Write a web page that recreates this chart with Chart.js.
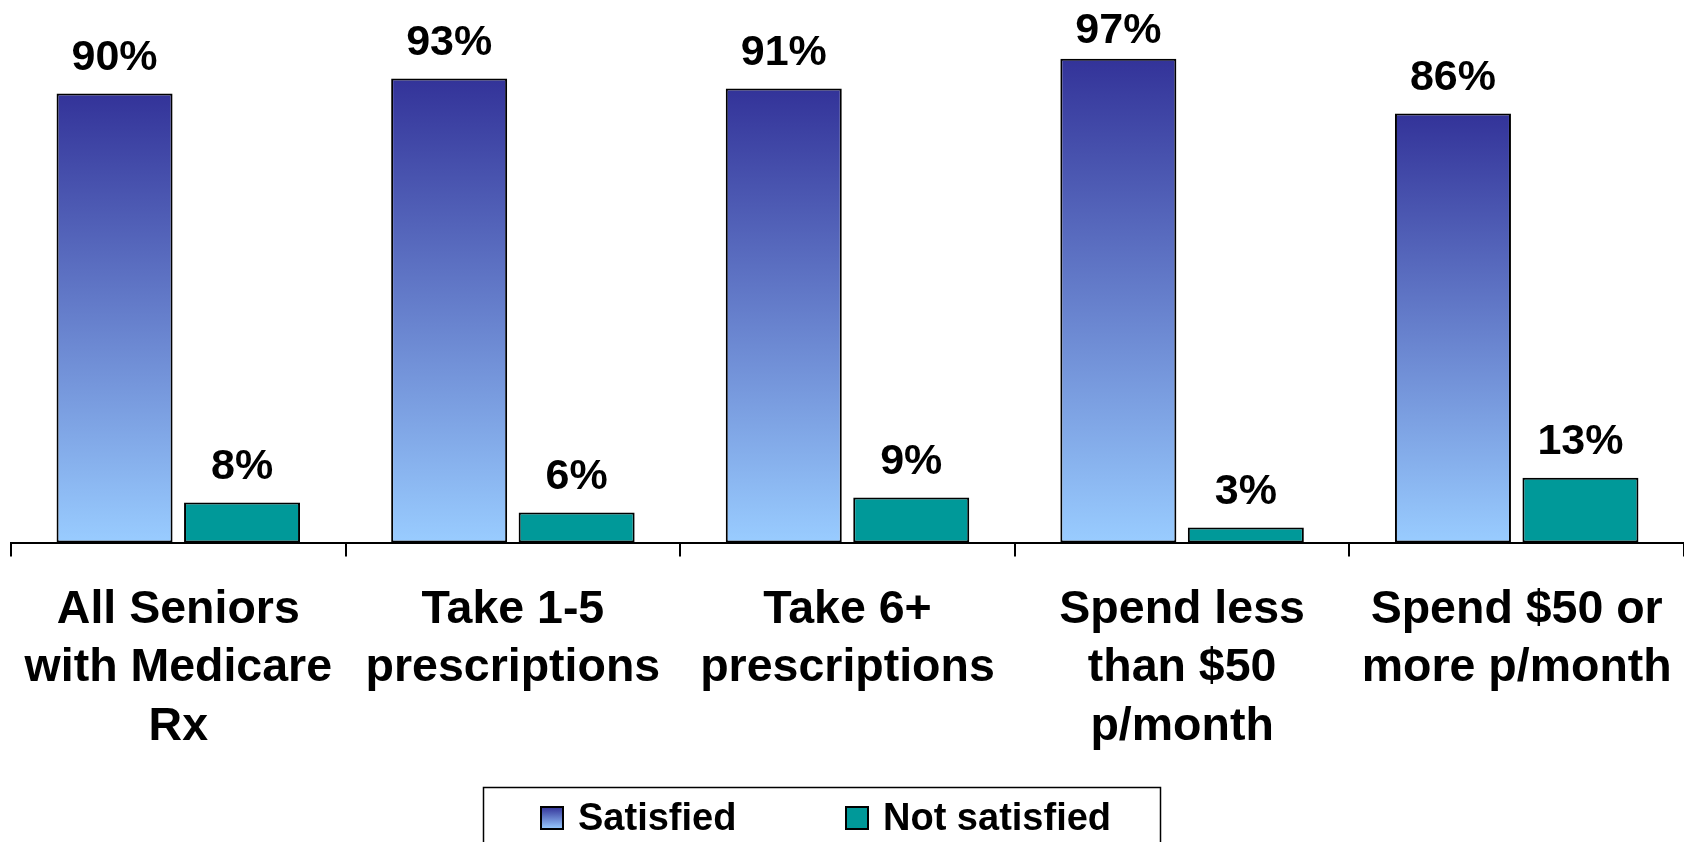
<!DOCTYPE html>
<html>
<head>
<meta charset="utf-8">
<script src="https://cdn.jsdelivr.net/npm/chart.js@4/dist/chart.umd.min.js"></script>
<style>
  html, body { margin: 0; padding: 0; background: #ffffff; }
  #wrap { width: 1684px; height: 842px; }
</style>
</head>
<body>
<div id="wrap"><canvas id="c" width="1684" height="842"></canvas></div>
<script>
const categories = [
  ["All Seniors", "with Medicare", "Rx"],
  ["Take 1-5", "prescriptions"],
  ["Take 6+", "prescriptions"],
  ["Spend less", "than $50", "p/month"],
  ["Spend $50 or", "more p/month"]
];
const seriesNames = ["Satisfied", "Not satisfied"];
const satisfied = [90, 93, 91, 97, 86];
const notSatisfied = [8, 6, 9, 3, 13];

const FONT = "'Liberation Sans', Arial, Helvetica, sans-serif";
const DARK = '#333399', LIGHT = '#99CCFF', TEAL = '#009999';

function barGradient(ctx) {
  const chart = ctx.chart;
  if (!chart.chartArea || ctx.type !== 'data' || !chart.scales.y) return DARK;
  const ys = chart.scales.y;
  const top = ys.getPixelForValue(ctx.raw);
  const bot = ys.getPixelForValue(0);
  const g = chart.ctx.createLinearGradient(0, top, 0, bot);
  g.addColorStop(0, DARK);
  g.addColorStop(1, LIGHT);
  return g;
}

const valueLabels = {
  id: 'valueLabels',
  afterDatasetsDraw(chart) {
    const c = chart.ctx;
    c.save();
    c.fillStyle = '#000';
    c.font = 'bold 43px ' + FONT;
    c.textAlign = 'center';
    c.textBaseline = 'alphabetic';
    chart.data.datasets.forEach((ds, di) => {
      const meta = chart.getDatasetMeta(di);
      meta.data.forEach((el, i) => {
        const y = Math.max(el.y - 24, 43);
        c.fillText(ds.data[i] + '%', el.x, y);
      });
    });
    c.restore();
  }
};

const boxLegend = {
  id: 'boxLegend',
  afterDraw(chart) {
    const c = chart.ctx;
    c.save();
    c.strokeStyle = '#000';
    c.lineWidth = 1.5;
    c.strokeRect(483.5, 787.5, 677, 80);
    const items = [
      { x: 541, tx: 578, fill: 'grad', label: chart.data.datasets[0].label },
      { x: 846, tx: 883, fill: TEAL, label: chart.data.datasets[1].label }
    ];
    items.forEach(it => {
      let f = it.fill;
      if (f === 'grad') {
        f = c.createLinearGradient(0, 807, 0, 829);
        f.addColorStop(0, DARK);
        f.addColorStop(1, LIGHT);
      }
      c.fillStyle = f;
      c.fillRect(it.x, 807, 22, 22);
      c.lineWidth = 2;
      c.strokeStyle = '#000';
      c.strokeRect(it.x, 807, 22, 22);
      c.fillStyle = '#000';
      c.font = 'bold 38px ' + FONT;
      c.textAlign = 'left';
      c.textBaseline = 'alphabetic';
      c.fillText(it.label, it.tx, 830);
    });
    c.restore();
  }
};

new Chart(document.getElementById('c'), {
  type: 'bar',
  data: {
    labels: categories,
    datasets: [
      { label: seriesNames[0], data: satisfied, backgroundColor: barGradient,
        borderColor: '#000', borderWidth: 2, borderSkipped: false },
      { label: seriesNames[1], data: notSatisfied, backgroundColor: TEAL,
        borderColor: '#000', borderWidth: 2, borderSkipped: false }
    ]
  },
  options: {
    responsive: false,
    devicePixelRatio: 1,
    animation: false,
    layout: { padding: { top: 43.7, left: 11, right: 0, bottom: 0 } },
    datasets: { bar: { categoryPercentage: 0.762, barPercentage: 0.91 } },
    plugins: { legend: { display: false }, tooltip: { enabled: false } },
    scales: {
      y: { display: false, min: 0, max: 100 },
      x: {
        afterFit(scale) { scale.height = 299.5; scale.paddingLeft = 0; scale.paddingRight = 0; },
        border: { display: true, color: '#000', width: 2 },
        grid: { display: true, offset: true, drawOnChartArea: false, drawTicks: true,
                tickLength: 14, color: '#000', lineWidth: 2 },
        ticks: {
          autoSkip: false, maxRotation: 0, minRotation: 0, padding: 24,
          color: '#000',
          font: { family: FONT, size: 46.5, weight: 'bold', lineHeight: 1.26 }
        }
      }
    }
  },
  plugins: [valueLabels, boxLegend]
});
</script>
</body>
</html>
